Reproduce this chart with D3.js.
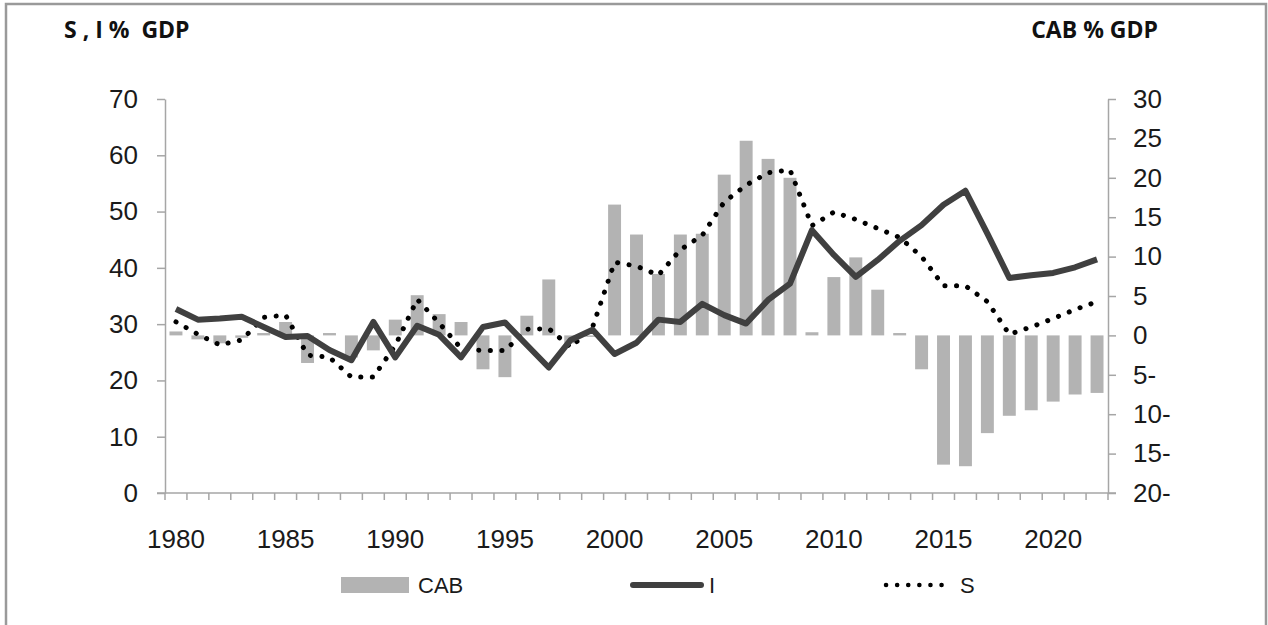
<!DOCTYPE html>
<html>
<head>
<meta charset="utf-8">
<script src="https://cdnjs.cloudflare.com/ajax/libs/d3/7.8.5/d3.min.js"></script>
<style>
  body { margin: 0; background: #fff; }
  svg { display: block; }
  .axis path, .axis line { stroke: #a6a6a6; stroke-width: 1.5; }
  .axis text { font-family: "Liberation Sans", Arial, sans-serif; font-size: 26px; fill: #1a1a1a; }
  .title { font-family: "Open Sans", sans-serif; font-weight: bold; font-size: 23px; fill: #111; white-space: pre; }
  .legend text { font-family: "Liberation Sans", Arial, sans-serif; font-size: 22px; fill: #1a1a1a; }
</style>
</head>
<body>
<div id="chart"></div>
<script>
var years = d3.range(1980, 2023);
var yearLabels = [1980, 1985, 1990, 1995, 2000, 2005, 2010, 2015, 2020];

// current account balance, % GDP (right axis)
var cab = [0.5, -0.5, -1.0, -0.3, 0.3, 1.7, -3.5, 0.3, -2.8, -1.9,
  2.0, 5.1, 2.7, 1.7, -4.3, -5.3, 2.5, 7.1, -1.0, 0.0,
  16.6, 12.8, 7.8, 12.8, 12.9, 20.4, 24.7, 22.4, 20.0, 0.4,
  7.4, 9.9, 5.8, 0.3, -4.3, -16.4, -16.6, -12.4, -10.2, -9.5,
  -8.4, -7.5, -7.3];

// investment, % GDP (left axis)
var inv = [32.7, 30.8, 31.0, 31.3, 29.5, 27.7, 27.9, 25.4, 23.6, 30.4,
  24.1, 29.7, 28.1, 24.1, 29.5, 30.3, 26.3, 22.3, 27.2, 29.0,
  24.7, 26.7, 30.8, 30.4, 33.6, 31.6, 30.1, 34.3, 37.2, 46.7,
  42.3, 38.4, 41.4, 44.8, 47.6, 51.2, 53.7, 46.1, 38.2, 38.7,
  39.1, 40.1, 41.5];

// savings, % GDP (left axis)
var sav = [30.4, 28.2, 26.3, 27.2, 31.2, 31.6, 24.5, 24.1, 20.6, 20.6,
  26.2, 34.4, 30.2, 25.7, 25.3, 25.3, 29.1, 29.2, 25.9, 29.5,
  41.0, 40.3, 38.7, 43.2, 45.8, 51.7, 54.7, 56.9, 57.4, 47.5,
  49.9, 48.6, 47.0, 45.4, 42.0, 36.8, 36.8, 34.0, 28.2, 29.5,
  31.0, 32.6, 34.0];

var leftTicks = [0, 10, 20, 30, 40, 50, 60, 70];
var rightTicks = [30, 25, 20, 15, 10, 5, 0, -5, -10, -15, -20];

var _width = 1268, _height = 625,
  _margins = {top: 99, left: 165, right: 160, bottom: 132};

var svg = d3.select("#chart").append("svg")
  .attr("width", _width)
  .attr("height", _height);

// outer frame
svg.append("path")
  .attr("d", "M6,640V4H1266V640")
  .attr("fill", "none")
  .attr("stroke", "#9a9a9a")
  .attr("stroke-width", 2.5);

var x = d3.scaleBand()
  .domain(years)
  .range([_margins.left, _width - _margins.right])
  .paddingInner(0.41)
  .paddingOuter(0.205);

var yL = d3.scaleLinear().domain([0, 70]).range([_height - _margins.bottom, _margins.top]);
var yR = d3.scaleLinear().domain([-20, 30]).range([_height - _margins.bottom, _margins.top]);

function xMid(d) { return x(d) + x.bandwidth() / 2; }

// bars
svg.append("g").selectAll("rect")
  .data(years)
  .enter().append("rect")
  .attr("x", function (d) { return x(d); })
  .attr("width", x.bandwidth())
  .attr("y", function (d, i) { return yR(Math.max(0, cab[i])); })
  .attr("height", function (d, i) { return Math.max(1.5, Math.abs(yR(cab[i]) - yR(0))); })
  .attr("fill", "#b3b3b3");

// axes
var axisL = d3.axisLeft(yL).tickValues(leftTicks).tickSize(8).tickSizeOuter(0).tickPadding(19);
svg.append("g").attr("class", "axis")
  .attr("transform", "translate(" + _margins.left + ",0)")
  .call(axisL);

var axisR = d3.axisRight(yR).tickValues(rightTicks).tickSize(8).tickSizeOuter(0).tickPadding(17)
  .tickFormat(function (d) { return d < 0 ? Math.abs(d) + "-" : d; });
svg.append("g").attr("class", "axis")
  .attr("transform", "translate(" + (_width - _margins.right) + ",0)")
  .call(axisR);

var axisX = d3.axisBottom(x).tickValues(yearLabels).tickSize(0).tickPadding(37);
var gx = svg.append("g").attr("class", "axis")
  .attr("transform", "translate(0," + yL(0) + ")")
  .call(axisX);
gx.select(".domain")
  .attr("d", "M" + (_margins.left - 8) + ",0H" + (_width - _margins.right + 8));

// category boundary ticks
var step = x.step();
var bounds = years.map(function (d) { return x(d) - step * x.paddingInner() / 2; });
bounds.push(bounds[bounds.length - 1] + step);
gx.selectAll("line.cat")
  .data(bounds)
  .enter().append("line")
  .attr("class", "cat")
  .attr("x1", function (d) { return d; })
  .attr("x2", function (d) { return d; })
  .attr("y1", 0)
  .attr("y2", 7);

// lines
var lineI = d3.line()
  .x(function (d, i) { return xMid(years[i]); })
  .y(function (d) { return yL(d); });

svg.append("path")
  .datum(sav)
  .attr("d", lineI)
  .attr("fill", "none")
  .attr("stroke", "#000")
  .attr("stroke-width", 5)
  .attr("stroke-linecap", "round")
  .attr("stroke-dasharray", "0.1,11.5");

svg.append("path")
  .datum(inv)
  .attr("d", lineI)
  .attr("fill", "none")
  .attr("stroke", "#404040")
  .attr("stroke-width", 6)
  .attr("stroke-linejoin", "round");

// titles
svg.append("text").attr("class", "title")
  .attr("x", 64).attr("y", 38)
  .text("S , I %  GDP");
svg.append("text").attr("class", "title")
  .attr("x", 1158).attr("y", 38)
  .attr("text-anchor", "end")
  .text("CAB % GDP");

// legend
var lg = svg.append("g").attr("class", "legend");
lg.append("rect")
  .attr("x", 341).attr("y", 577).attr("width", 68).attr("height", 16)
  .attr("fill", "#b3b3b3");
lg.append("text").attr("x", 418).attr("y", 593).text("CAB");

lg.append("line")
  .attr("x1", 633).attr("x2", 701).attr("y1", 585).attr("y2", 585)
  .attr("stroke", "#404040").attr("stroke-width", 6).attr("stroke-linecap", "round");
lg.append("text").attr("x", 709).attr("y", 593).text("I");

lg.append("line")
  .attr("x1", 886).attr("x2", 952).attr("y1", 585).attr("y2", 585)
  .attr("stroke", "#000").attr("stroke-width", 4.5)
  .attr("stroke-linecap", "round").attr("stroke-dasharray", "0.1,11");
lg.append("text").attr("x", 960).attr("y", 593).text("S");
</script>
</body>
</html>
